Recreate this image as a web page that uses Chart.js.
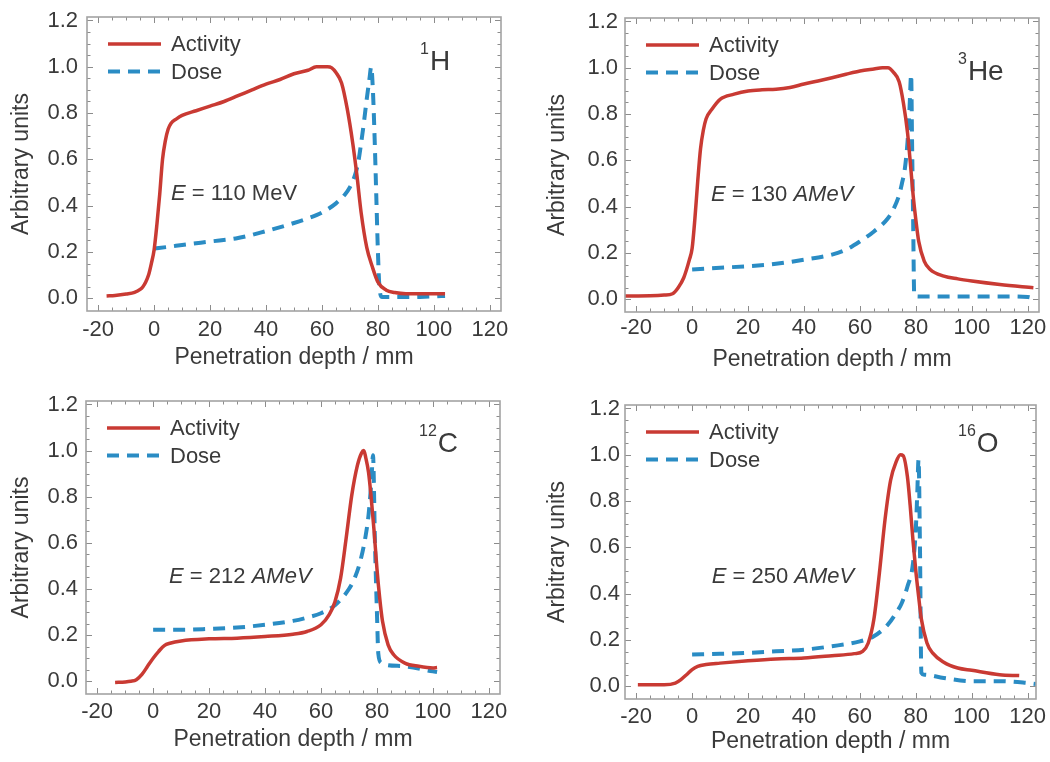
<!DOCTYPE html>
<html><head><meta charset="utf-8">
<script src="https://cdn.jsdelivr.net/npm/chart.js@4.4.0/dist/chart.umd.min.js"></script>
<style>
html,body{margin:0;padding:0;background:#fff;}
#wrap{position:relative;width:1050px;height:762px;overflow:hidden;}
canvas{position:absolute;}
</style></head><body>
<div id="wrap">
<canvas id="c1" width="525" height="381" style="left:0;top:0"></canvas>
<canvas id="c2" width="525" height="381" style="left:525px;top:0"></canvas>
<canvas id="c3" width="525" height="381" style="left:0;top:381px"></canvas>
<canvas id="c4" width="525" height="381" style="left:525px;top:381px"></canvas>
</div>
<script>
// ---------- data ----------
const seriesNames = ['Activity', 'Dose'];
const xTickValues = [-20, 0, 20, 40, 60, 80, 100, 120];
const yTickValues = [0, 0.2, 0.4, 0.6, 0.8, 1.0, 1.2];
const ionMass = ['1', '3', '12', '16'];
const ionSymbol = ['H', 'He', 'C', 'O'];
const energyValue = ['110', '130', '212', '250'];
const energyUnit = ['MeV', 'AMeV', 'AMeV', 'AMeV'];

// 1H
const hActX = [-17, -14, -10, -7, -5, -4, -3, -2, -1, 0, 1, 2, 3, 4, 5, 6, 8, 10, 15, 20, 25, 30, 35, 40, 45, 50, 55, 58, 60, 62, 63.5, 65, 67, 69, 71, 72.5, 74, 76, 78, 80, 83, 86, 90, 95, 100, 104];
const hActY = [0.01, 0.012, 0.018, 0.025, 0.038, 0.05, 0.07, 0.1, 0.15, 0.21, 0.32, 0.45, 0.6, 0.68, 0.73, 0.755, 0.775, 0.79, 0.81, 0.83, 0.85, 0.875, 0.9, 0.925, 0.945, 0.97, 0.985, 1.0, 1.0, 1.0, 0.995, 0.975, 0.93, 0.82, 0.67, 0.53, 0.37, 0.22, 0.136, 0.07, 0.035, 0.025, 0.02, 0.02, 0.02, 0.02];
const hDoseX = [0, 5, 10, 20, 30, 40, 50, 55, 60, 65, 68, 70, 72, 73, 74, 75, 76, 77, 77.6, 78.2, 78.8, 79.4, 80, 80.6, 81.5, 85, 90, 95, 100, 104];
const hDoseY = [0.215, 0.222, 0.23, 0.245, 0.26, 0.29, 0.325, 0.345, 0.37, 0.41, 0.445, 0.48, 0.54, 0.59, 0.67, 0.76, 0.86, 0.95, 1.0, 0.9, 0.7, 0.45, 0.2, 0.04, 0.005, 0.005, 0.005, 0.006, 0.008, 0.01];

// 3He
const heActX = [-24, -15, -10, -7, -5, -3, -1, 0, 1, 2, 3, 4, 5, 7, 10, 15, 20, 25, 30, 35, 40, 45, 50, 55, 60, 65, 68, 70, 72, 74, 75.5, 77, 78, 79, 80, 81, 83, 85, 90, 95, 100, 110, 122];
const heActY = [0.014, 0.015, 0.018, 0.024, 0.05, 0.093, 0.17, 0.22, 0.35, 0.51, 0.65, 0.73, 0.78, 0.82, 0.864, 0.886, 0.9, 0.905, 0.907, 0.915, 0.93, 0.943, 0.957, 0.972, 0.986, 0.995, 1.0, 1.0, 0.98, 0.94, 0.85, 0.72, 0.59, 0.45, 0.34, 0.25, 0.164, 0.13, 0.1, 0.088, 0.079, 0.064, 0.05];
const heDoseX = [0, 10, 20, 30, 40, 50, 55, 60, 65, 70, 72, 74, 75, 76, 77, 77.7, 78.3, 78.6, 79, 79.4, 81, 90, 100, 110, 120, 123];
const heDoseY = [0.129, 0.136, 0.143, 0.153, 0.171, 0.193, 0.214, 0.25, 0.293, 0.35, 0.39, 0.45, 0.5, 0.56, 0.68, 0.82, 0.97, 0.7, 0.35, 0.015, 0.012, 0.012, 0.012, 0.012, 0.01, 0.0];

// 12C
const cActX = [-13.6, -10, -8, -6, -4, -2, 0, 2, 4, 6, 10, 20, 30, 40, 50, 55, 60, 63, 65, 67, 69, 71, 73, 74.5, 75.3, 76, 77, 78, 79, 80, 81, 82, 84, 86, 90, 95, 100, 101.5];
const cActY = [-0.005, -0.003, 0, 0.007, 0.03, 0.065, 0.1, 0.13, 0.155, 0.165, 0.175, 0.184, 0.187, 0.194, 0.204, 0.216, 0.245, 0.29, 0.345, 0.446, 0.62, 0.806, 0.935, 0.99, 1.0, 0.97, 0.906, 0.79, 0.65, 0.49, 0.36, 0.26, 0.158, 0.115, 0.079, 0.065, 0.058, 0.06];
const cDoseX = [0, 10, 20, 30, 40, 50, 55, 60, 65, 70, 72, 74, 76, 77, 78, 78.6, 79.3, 80, 80.5, 81.5, 83, 90, 100, 101.5];
const cDoseY = [0.223, 0.223, 0.227, 0.233, 0.245, 0.262, 0.276, 0.295, 0.33, 0.40, 0.446, 0.518, 0.633, 0.72, 0.863, 0.98, 0.6, 0.3, 0.12, 0.08, 0.072, 0.065, 0.043, 0.04];

// 16O
const oActX = [-19.4, -10, -6, -4, -2, 0, 2, 5, 10, 20, 30, 40, 50, 58, 61, 63, 65, 67, 69, 71, 73, 74.5, 75.5, 77, 78, 79, 80, 81, 82, 84, 86, 90, 95, 100, 110, 117];
const oActY = [0.007, 0.007, 0.014, 0.029, 0.05, 0.072, 0.086, 0.094, 0.10, 0.11, 0.118, 0.122, 0.132, 0.141, 0.151, 0.187, 0.288, 0.49, 0.72, 0.89, 0.97, 1.0, 0.996, 0.906, 0.78, 0.63, 0.50, 0.39, 0.29, 0.187, 0.144, 0.104, 0.079, 0.069, 0.05, 0.046];
const oDoseX = [0, 10, 20, 30, 40, 50, 60, 65, 70, 73, 75, 77, 79, 80, 80.5, 81, 81.5, 82, 83, 90, 100, 110, 120, 123];
const oDoseY = [0.137, 0.14, 0.144, 0.151, 0.158, 0.173, 0.194, 0.216, 0.266, 0.317, 0.36, 0.43, 0.53, 0.676, 0.82, 0.98, 0.6, 0.058, 0.05, 0.036, 0.022, 0.022, 0.014, 0.01];

// ---------- styling / layout ----------
const FONT = '"Liberation Sans", Arial, Helvetica, sans-serif';
const TEXT = '#3a3a3a';
const RED = '#c93a33';
const BLUE = '#2a8cc4';

const panels = [
  { id: 'c1', box: {l: 0, t: 0, w: 525, h: 381}, plot: {l: 87, t: 17, r: 501, b: 311}, xMax: 124,
    act: [hActX, hActY], dose: [hDoseX, hDoseY], yTitleX: 22, yTickGap: 9, xTickY: 330, xTitleY: 358,
    eX: 6, eY: 0.425, ionDy: 53 },
  { id: 'c2', box: {l: 525, t: 0, w: 525, h: 381}, plot: {l: 625, t: 18, r: 1039, b: 312}, xMax: 124,
    act: [heActX, heActY], dose: [heDoseX, heDoseY], yTitleX: 558, yTickGap: 7, xTickY: 328, xTitleY: 360,
    eX: 6.7, eY: 0.424, ionDy: 62 },
  { id: 'c3', box: {l: 0, t: 381, w: 525, h: 381}, plot: {l: 86, t: 401, r: 500, b: 694}, xMax: 124,
    act: [cActX, cActY], dose: [cDoseX, cDoseY], yTitleX: 22, yTickGap: 8, xTickY: 712, xTitleY: 740,
    eX: 5.7, eY: 0.428, ionDy: 51 },
  { id: 'c4', box: {l: 525, t: 381, w: 525, h: 381}, plot: {l: 625, t: 405, r: 1036, b: 699}, xMax: 123,
    act: [oActX, oActY], dose: [oDoseX, oDoseY], yTitleX: 558, yTickGap: 5, xTickY: 717, xTitleY: 742,
    eX: 7, eY: 0.447, ionDy: 47 }
];

const TICK_FONT = 22, TITLE_FONT = 23;

function pts(xs, ys) { return xs.map((x, i) => ({x: x, y: ys[i]})); }

const decoPlugin = {
  id: 'deco',
  afterDatasetsDraw(chart, args, o) {
    const {ctx, chartArea: a, scales: {x, y}} = chart;
    ctx.save();
    function seg(x1, y1, x2, y2) { ctx.beginPath(); ctx.moveTo(x1, y1); ctx.lineTo(x2, y2); ctx.stroke(); }
    // inward ticks on all four sides
    ctx.strokeStyle = '#8c8c8c'; ctx.lineWidth = 1; ctx.setLineDash([]);
    for (let k = -4; k <= 24; k++) {
      const v = k * 5;
      const px = Math.round(x.getPixelForValue(v)) + 0.5;
      const len = (k % 4 === 0) ? 6 : 3.5;
      seg(px, a.bottom, px, a.bottom - len);
      seg(px, a.top, px, a.top + len);
    }
    for (let k = 0; k <= 24; k++) {
      const v = k * 0.05;
      const py = Math.round(y.getPixelForValue(v)) + 0.5;
      const len = (k % 4 === 0) ? 6 : 3.5;
      seg(a.left, py, a.left + len, py);
      seg(a.right, py, a.right - len, py);
    }
    // frame
    ctx.strokeStyle = '#a3a3a3'; ctx.lineWidth = 1.6;
    ctx.strokeRect(a.left, a.top, a.right - a.left, a.bottom - a.top);

    // in-plot legend
    chart.data.datasets.forEach((ds, i) => {
      const yy = a.top + 27 + i * 27.5;
      ctx.strokeStyle = ds.borderColor; ctx.lineWidth = ds.borderWidth;
      ctx.setLineDash(ds.borderDash || []);
      seg(a.left + 21, yy, a.left + 74, yy);
      ctx.setLineDash([]);
      ctx.fillStyle = TEXT; ctx.font = `22px ${FONT}`; ctx.textBaseline = 'middle'; ctx.textAlign = 'left';
      ctx.fillText(ds.label, a.left + 84, yy + 1);
    });

    // energy annotation
    let ex = x.getPixelForValue(o.eX);
    const ey = y.getPixelForValue(o.eY);
    ctx.textBaseline = 'alphabetic'; ctx.fillStyle = TEXT;
    o.eParts.forEach(p => {
      ctx.font = `${p.it ? 'italic ' : ''}22px ${FONT}`;
      ctx.fillText(p.t, ex, ey);
      ex += ctx.measureText(p.t).width;
    });

    // ion label
    let ix = a.left + 333;
    const iy = a.top + o.ionDy;
    ctx.font = `16px ${FONT}`;
    ctx.fillText(o.mass, ix, iy - 16);
    ix += ctx.measureText(o.mass).width + 1;
    ctx.font = `28px ${FONT}`;
    ctx.fillText(o.sym, ix, iy);
    ctx.restore();
  }
};

panels.forEach((p, idx) => {
  const yAxisW = p.plot.l - p.box.l;
  const xAxisH = p.box.t + p.box.h - p.plot.b;
  const half = TICK_FONT * 1.2 / 2, halfT = TITLE_FONT * 1.2 / 2;
  new Chart(document.getElementById(p.id), {
    type: 'line',
    data: {
      datasets: [
        { label: seriesNames[0], data: pts(p.act[0], p.act[1]), borderColor: RED, borderWidth: 3.5,
          pointRadius: 0, fill: false, cubicInterpolationMode: 'monotone' },
        { label: seriesNames[1], data: pts(p.dose[0], p.dose[1]), borderColor: BLUE, borderWidth: 4,
          borderDash: [12, 8], pointRadius: 0, fill: false, cubicInterpolationMode: 'monotone' }
      ]
    },
    options: {
      responsive: false, animation: false, devicePixelRatio: 1,
      layout: { padding: { left: 0, top: p.plot.t - p.box.t, right: p.box.l + p.box.w - p.plot.r, bottom: 0 } },
      plugins: {
        legend: { display: false }, tooltip: { enabled: false },
        deco: {
          eX: p.eX, eY: p.eY, ionDy: p.ionDy, mass: ionMass[idx], sym: ionSymbol[idx],
          eParts: [{t: 'E', it: true}, {t: ' = ' + energyValue[idx] + ' '}, {t: energyUnit[idx], it: energyUnit[idx] !== 'MeV'}]
        }
      },
      scales: {
        x: {
          type: 'linear', min: -24, max: p.xMax,
          afterBuildTicks: s => { s.ticks = xTickValues.map(v => ({value: v})); },
          afterFit: s => { s.height = xAxisH; s.paddingLeft = 0; s.paddingRight = 0; },
          grid: { display: false, drawTicks: false }, border: { display: false },
          ticks: { autoSkip: false, maxRotation: 0, color: TEXT, font: { family: FONT, size: TICK_FONT },
                   padding: (p.xTickY - p.plot.b) - half, callback: v => String(v) },
          title: { display: true, text: 'Penetration depth / mm', color: TEXT, font: { family: FONT, size: TITLE_FONT },
                   padding: { top: 0, bottom: (p.box.t + p.box.h - p.xTitleY) - halfT } }
        },
        y: {
          type: 'linear', min: -0.055, max: 1.215,
          afterBuildTicks: s => { s.ticks = yTickValues.map(v => ({value: v})); },
          afterFit: s => { s.width = yAxisW; s.paddingTop = 0; s.paddingBottom = 0; },
          grid: { display: false, drawTicks: false }, border: { display: false },
          ticks: { autoSkip: false, color: TEXT, font: { family: FONT, size: TICK_FONT },
                   padding: p.yTickGap, callback: v => Number(v).toFixed(1) },
          title: { display: true, text: 'Arbitrary units', color: TEXT, font: { family: FONT, size: TITLE_FONT },
                   padding: { top: (p.yTitleX - p.box.l) - halfT, bottom: 0 } }
        }
      }
    },
    plugins: [decoPlugin]
  });
});
</script>
</body></html>
